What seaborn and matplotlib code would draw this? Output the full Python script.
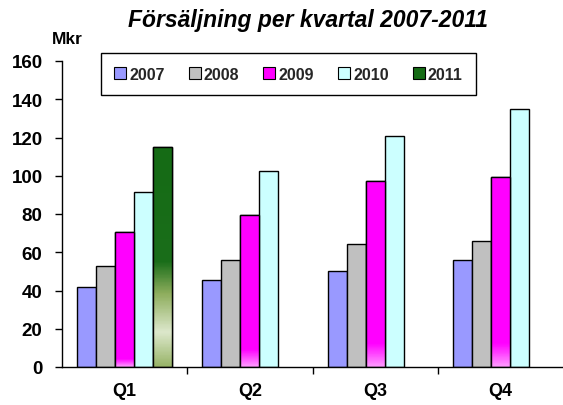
import numpy as np
import pandas as pd
import matplotlib
matplotlib.use("Agg")
import matplotlib.pyplot as plt
from matplotlib.colors import LinearSegmentedColormap
from matplotlib.patches import Rectangle
import seaborn as sns

# data (Mkr)
quarters = ["Q1", "Q2", "Q3", "Q4"]
years = ["2007", "2008", "2009", "2010", "2011"]
v2007 = [42, 45.5, 50, 56]
v2008 = [53, 56, 64.5, 66]
v2009 = [70.5, 79.5, 97, 99.5]
v2010 = [91.5, 102.5, 121, 135]
v2011 = [115, np.nan, np.nan, np.nan]
colors = ["#9999FF", "#C0C0C0", "#FF00FF", "#CCFFFF", "#156B15"]

df = pd.DataFrame({"kvartal": quarters * 5,
                   "year": [y for y in years for _ in quarters],
                   "mkr": v2007 + v2008 + v2009 + v2010 + v2011})

sns.set_theme(style="white")
plt.rcParams["font.family"] = ["Liberation Sans", "DejaVu Sans"]
plt.rcParams["font.weight"] = "bold"

fig = plt.figure(figsize=(5.63, 4.06), dpi=100)
ax = fig.add_axes([62 / 563, 1 - 368 / 406, 501 / 563, 306 / 406])
sns.barplot(data=df, x="kvartal", y="mkr", hue="year", hue_order=years, order=quarters,
            palette=colors, saturation=1, width=0.76, edgecolor="black", linewidth=1,
            legend=False, ax=ax, errorbar=None)

# gradient fills (Excel style) clipped to the bars
def grad_fill(patch, stops):
    x0, w, h = patch.get_x(), patch.get_width(), patch.get_height()
    if not np.isfinite(h) or h <= 0:
        return
    vals = np.linspace(0, h, 200)
    cmap = LinearSegmentedColormap.from_list(
        "g", [(p / h, c) for p, c in stops if p / h < 1] + [(1, stops[-1][1])])
    img = cmap(vals / h)[:, None, :]
    im = ax.imshow(img, extent=[x0, x0 + w, 0, h], origin="lower", aspect="auto",
                   zorder=patch.get_zorder() + 0.1)
    im.set_clip_path(patch)
    ax.add_patch(Rectangle((x0, 0), w, h, fill=False, edgecolor="black", linewidth=1,
                           zorder=patch.get_zorder() + 0.2))

bars = ax.patches[:]
n = len(quarters)
green = [(0, "#98B468"), (18, "#DDE8CC"), (38, "#8FAE5E"), (55, "#1A6E1A"), (200, "#156B15")]
for i, p in enumerate(bars[2 * n:3 * n]):
    grad_fill(p, [(0, "#FF99FF"), ([4, 9, 12, 12][i], "#FF00FF"), (200, "#FF00FF")])
for p in bars[4 * n:5 * n]:
    grad_fill(p, green)

ax.set_xlim(-0.5, 3.5)
ax.set_ylim(0, 160)
ax.set_yticks(range(0, 161, 20))
ax.set_xlabel("")
ax.set_ylabel("")
ax.set_xticks([0.5, 1.5, 2.5], minor=True)
ax.tick_params(axis="x", which="major", length=0, pad=11, labelsize=13)
ax.tick_params(axis="x", which="minor", length=5, width=1, color="black", direction="out", bottom=True)
ax.tick_params(axis="y", length=5, width=1, color="black", direction="out", left=True, pad=9, labelsize=13.5)
for s in ["top", "right"]:
    ax.spines[s].set_visible(False)
for s in ["left", "bottom"]:
    ax.spines[s].set_color("black")
    ax.spines[s].set_linewidth(1)
for lab in ax.get_xticklabels() + ax.get_yticklabels():
    lab.set_fontweight("bold")
    lab.set_color("black")

handles = [Rectangle((0, 0), 1, 1, facecolor=c, edgecolor="black", linewidth=0.8) for c in colors]
leg = ax.legend(handles, years, ncol=5, loc="center",
                bbox_to_anchor=((288.5 - 62) / 501, (368 - 75) / 306),
                frameon=True, fancybox=False, edgecolor="black", framealpha=1,
                prop={"weight": "bold", "size": 11.5}, handlelength=0.75, handleheight=0.75,
                handletextpad=0.2, columnspacing=1.5, borderpad=0.85)
leg.get_frame().set_linewidth(1)

fig.text(308 / 563, 1 - 20 / 406, "Försäljning per kvartal 2007-2011", ha="center", va="center",
         fontsize=16.5, fontweight="bold", fontstyle="italic", color="black")
fig.text(67 / 563, 1 - 40 / 406, "Mkr", ha="center", va="center", fontsize=12.5,
         fontweight="bold", color="black")

fig.savefig("out.png", dpi=100)
